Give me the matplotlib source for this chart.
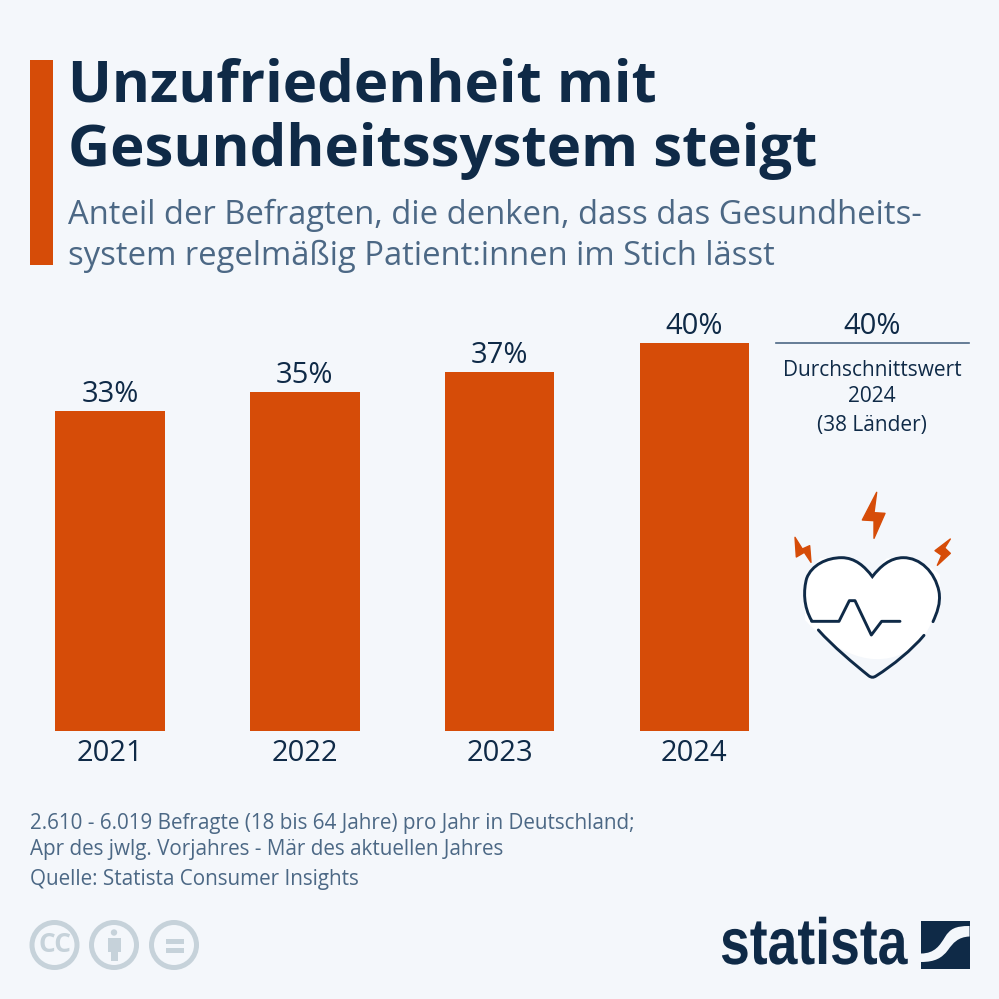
import matplotlib
matplotlib.use("Agg")
import matplotlib.pyplot as plt
from matplotlib.patches import Circle, PathPatch, Polygon, Rectangle
from matplotlib.path import Path
from matplotlib.patheffects import AbstractPathEffect
from matplotlib.transforms import Affine2D

years = ["2021", "2022", "2023", "2024"]
shares = [33, 35, 37, 40]
avg_value = "40%"
avg_lines = ["Durchschnittswert", "2024", "(38 Länder)"]

BG = "#f4f7fb"
ORANGE = "#d64c08"
NAVY = "#0f2a47"
SLATE = "#4c6885"
ICON = "#c6d2da"

plt.rcParams["font.family"] = ["Open Sans", "DejaVu Sans"]


class SqueezeX(AbstractPathEffect):
    # narrows the wordmark around x0 (display px), no condensed font is installed
    def __init__(self, x0, scale):
        super().__init__()
        self.squeeze = Affine2D().translate(-x0, 0).scale(scale, 1).translate(x0, 0)

    def draw_path(self, renderer, gc, tpath, affine, rgbFace=None):
        renderer.draw_path(gc, tpath, affine + self.squeeze, rgbFace)


fig = plt.figure(figsize=(9.99, 9.99), dpi=100, facecolor=BG)

# overlay in pixel coords, same as the reference image
ov = fig.add_axes([0, 0, 1, 1], zorder=1)
ov.set_xlim(0, 999)
ov.set_ylim(999, 0)
ov.axis("off")

# bars, baseline at y=731, 9.7px per percent
top_px, base_px = 300, 731
ax = fig.add_axes([30 / 999, (999 - base_px) / 999, 740 / 999, (base_px - top_px) / 999],
                  zorder=2)
ax.patch.set_alpha(0)
ax.set_xlim(-80.2 / 194.67, 659.8 / 194.67)
ax.set_ylim(0, (base_px - top_px) / 9.7)
ax.bar(range(len(years)), shares, width=0.562, color=ORANGE)
for i, v in enumerate(shares):
    ax.annotate(f"{v}%", (i, v), xytext=(0, 1.4), textcoords="offset points",
                ha="center", va="bottom", fontsize=21, color=NAVY)
ax.set_xticks(range(len(years)), years)
ax.tick_params(axis="x", length=0, labelsize=21, labelcolor=NAVY, pad=5.6)
ax.set_yticks([])
for s in ax.spines.values():
    s.set_visible(False)

# header
ov.add_patch(Rectangle((30, 60), 23, 205, color=ORANGE, lw=0))
ov.text(68, 87, "Unzufriedenheit mit", fontsize=41.9, fontweight="bold", color=NAVY, va="center")
ov.text(68, 151, "Gesundheitssystem steigt", fontsize=41.9, fontweight="bold", color=NAVY, va="center")
ov.text(67.5, 215, "Anteil der Befragten, die denken, dass das Gesundheits-", fontsize=23.55, color=SLATE, va="center")
ov.text(67.5, 256, "system regelmäßig Patient:innen im Stich lässt", fontsize=23.55, color=SLATE, va="center")

# average box
ov.text(872, 326, avg_value, fontsize=21, color=NAVY, ha="center", va="center")
ov.plot([776, 969], [343, 343], color=SLATE, lw=1.2)
for y, line in zip([370, 396, 425], avg_lines):
    ov.text(872, y, line, fontsize=15, color=NAVY, ha="center", va="center")


def zp(x, y):
    return (770 + x / 3, 480 + y / 3)


# heart
fill_pts = [(307, 290), (270, 235), (210, 235), (150, 235), (105, 285), (105, 350),
            (105, 420), (180, 500), (307, 590), (434, 500), (510, 420), (510, 350),
            (510, 285), (460, 235), (400, 235), (350, 235)]
fill_verts = [zp(*p) for p in fill_pts] + [zp(320, 265), zp(307, 290), zp(307, 290)]
fill_codes = [Path.MOVETO] + [Path.CURVE4] * (len(fill_verts) - 1)
ov.add_patch(PathPatch(Path(fill_verts, fill_codes), fc="white", ec="none"))

upper = [(125, 422), (100, 380), (100, 330), (110, 295), (125, 255), (170, 233), (215, 233),
         (255, 233), (285, 260), (307, 290), (330, 260), (360, 233), (400, 233),
         (450, 233), (495, 275), (507, 335), (513, 370), (500, 400), (489, 425)]
up_codes = [Path.MOVETO] + [Path.CURVE4] * (len(upper) - 1)
ov.add_patch(PathPatch(Path([zp(*p) for p in upper], up_codes), fc="none", ec=NAVY,
                       lw=2.1, capstyle="round"))
lower = [(145, 450), (190, 500), (250, 550), (297, 588), (305, 593), (310, 593), (318, 588),
         (370, 555), (425, 510), (462, 466)]
low_codes = [Path.MOVETO] + [Path.CURVE4] * (len(lower) - 1)
ov.add_patch(PathPatch(Path([zp(*p) for p in lower], low_codes), fc="none", ec=NAVY,
                       lw=2.1, capstyle="round"))
pulse_x, pulse_y = zip(*[zp(*p) for p in [(125, 424), (207, 424), (238, 362), (255, 362),
                                          (304, 465), (335, 424), (390, 424)]])
ov.plot(pulse_x, pulse_y, color=NAVY, lw=2.1, solid_capstyle="round", solid_joinstyle="round")

# lightning bolts
bolts = [
    [(320, 37), (277, 120), (312, 122), (312, 175), (345, 100), (312, 98)],
    [(75, 172), (79, 231), (103, 217), (123, 247), (119, 197), (97, 207)],
    [(541, 177), (495, 212), (515, 226), (502, 256), (541, 220), (524, 204)],
]
for b in bolts:
    ov.add_patch(Polygon([zp(*p) for p in b], closed=True, fc=ORANGE, ec=ORANGE, lw=1, joinstyle="round"))

# footer notes
ov.text(30, 823, "2.610 - 6.019 Befragte (18 bis 64 Jahre) pro Jahr in Deutschland;", fontsize=14.9, color=SLATE, va="center")
ov.text(30, 849, "Apr des jwlg. Vorjahres - Mär des aktuellen Jahres", fontsize=14.9, color=SLATE, va="center")
ov.text(30, 880, "Quelle: Statista Consumer Insights", fontsize=14.9, color=SLATE, va="center")

# licence icons
for cx in [54.5, 114, 174]:
    ov.add_patch(Circle((cx, 945), 22.5, fc="none", ec=ICON, lw=3.6))
ov.text(54.5, 944, "CC", fontsize=19, fontweight="bold", color=ICON, ha="center", va="center")
ov.add_patch(Circle((114, 932.5), 3.2, fc=ICON, ec="none"))
ov.add_patch(Rectangle((107.5, 938), 13, 14, fc=ICON, ec="none"))
ov.add_patch(Rectangle((110.5, 950), 7, 11, fc=ICON, ec="none"))
ov.add_patch(Rectangle((165.5, 939), 18, 4.5, fc=ICON, ec="none"))
ov.add_patch(Rectangle((165.5, 948), 18, 4.5, fc=ICON, ec="none"))

# statista logo
ov.text(720, 947, "statista", family="Liberation Sans", fontsize=47, fontweight="bold", color=NAVY,
        va="center", path_effects=[SqueezeX(720, 0.82)])
ov.add_patch(Rectangle((921, 920.5), 48.5, 48.5, fc=NAVY, ec="none"))
sw_verts = [(921, 953.5), (935, 953.5), (940, 945), (945, 937), (950, 929), (955, 926), (969.5, 926),
            (969.5, 936.5), (958, 937), (953, 943), (948, 950), (942, 958), (935, 962), (921, 962),
            (921, 953.5)]
sw_codes = [Path.MOVETO] + [Path.CURVE4] * 6 + [Path.LINETO] + [Path.CURVE4] * 6 + [Path.CLOSEPOLY]
ov.add_patch(PathPatch(Path(sw_verts, sw_codes), fc=BG, ec="none"))

fig.savefig("out.png", dpi=100, facecolor=BG)
